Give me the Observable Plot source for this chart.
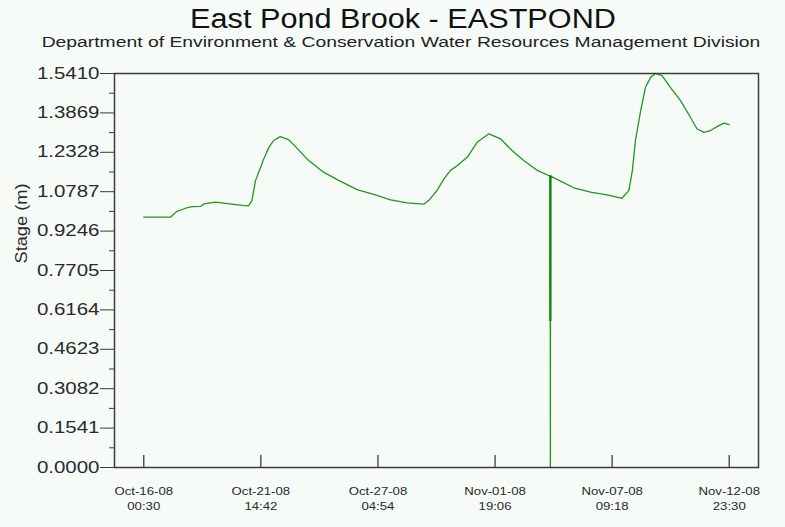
<!DOCTYPE html>
<html>
<head>
<meta charset="utf-8">
<script src="https://cdn.jsdelivr.net/npm/d3@7"></script>
<script src="https://cdn.jsdelivr.net/npm/@observablehq/plot@0.6"></script>
<style>
  html, body { margin: 0; padding: 0; background: #f6fbf8; }
  #wrap { position: relative; width: 785px; height: 527px; overflow: hidden; font-family: "Liberation Sans", Arial, sans-serif; }
  #header { position: relative; height: 60px; }
  .t { position: absolute; white-space: nowrap; transform-origin: center; }
  #title { top: 6px; left: 403px; font-size: 27px; line-height: 27px; color: #111; transform: translateX(-50%) scaleX(1.135); }
  #subtitle { top: 35px; left: 401px; font-size: 14px; line-height: 14px; color: #222; transform: translateX(-50%) scaleX(1.38); }
  #chart svg { display: block; }
</style>
</head>
<body>
<div id="wrap">
  <div id="header">
    <div id="title" class="t">East Pond Brook - EASTPOND</div>
    <div id="subtitle" class="t">Department of Environment &amp; Conservation Water Resources Management Division</div>
  </div>
  <div id="chart"></div>
</div>
<script>
// ---- data ----
const times = [
  "2008-10-16T00:30","2008-10-17T07:00","2008-10-17T14:30","2008-10-18T00:30","2008-10-18T08:00",
  "2008-10-18T17:30","2008-10-18T21:30","2008-10-19T10:30","2008-10-20T05:30","2008-10-20T17:30",
  "2008-10-21T00:30","2008-10-21T04:30","2008-10-21T08:30","2008-10-21T14:30","2008-10-21T18:00",
  "2008-10-22T00:00","2008-10-22T05:30","2008-10-22T13:00","2008-10-22T22:30","2008-10-23T06:30",
  "2008-10-23T19:30","2008-10-24T14:30","2008-10-25T09:30","2008-10-26T05:00","2008-10-27T00:00",
  "2008-10-27T19:30","2008-10-28T14:30","2008-10-29T09:30","2008-10-29T15:00","2008-10-30T00:30",
  "2008-10-30T08:30","2008-10-30T16:00","2008-10-31T00:00","2008-10-31T11:30","2008-10-31T22:30",
  "2008-11-01T12:00","2008-11-02T01:30","2008-11-02T14:30","2008-11-03T04:00","2008-11-03T19:30",
  "2008-11-04T08:30","2008-11-04T10:15","2008-11-04T10:30","2008-11-04T10:45",
  "2008-11-04T22:00","2008-11-05T13:30","2008-11-06T08:30","2008-11-07T03:30",
  "2008-11-07T20:30","2008-11-08T04:30","2008-11-08T08:30","2008-11-08T12:00","2008-11-08T18:00",
  "2008-11-08T23:30","2008-11-09T05:30","2008-11-09T11:00","2008-11-09T18:30","2008-11-10T04:00",
  "2008-11-10T15:30","2008-11-11T03:00","2008-11-11T10:30","2008-11-11T18:30","2008-11-12T02:00",
  "2008-11-12T11:30","2008-11-12T17:30","2008-11-12T23:30"
];
const stage = [
  0.979,0.979,1.002,1.014,1.020,
  1.021,1.031,1.038,1.030,1.025,
  1.023,1.044,1.122,1.174,1.207,
  1.253,1.279,1.294,1.282,1.255,
  1.207,1.155,1.120,1.087,1.068,
  1.047,1.035,1.030,1.044,1.083,
  1.129,1.162,1.181,1.214,1.272,
  1.305,1.285,1.240,1.201,1.162,
  1.142,1.141,0.000,1.140,
  1.120,1.094,1.077,1.066,
  1.053,1.083,1.162,1.279,1.396,
  1.487,1.526,1.541,1.533,1.487,
  1.436,1.370,1.325,1.311,1.318,
  1.337,1.347,1.341
];
// the dense (overplotted) part of the drop-out spike
const spikeTime = ["2008-11-04T10:30"];
const spikeLow = [0.571];
const spikeHigh = [1.141];

const xTickTimes = [
  "2008-10-16T00:30","2008-10-21T14:42","2008-10-27T04:54",
  "2008-11-01T19:06","2008-11-07T09:18","2008-11-12T23:30"
];
const yTickValues = [0.0000,0.1541,0.3082,0.4623,0.6164,0.7705,0.9246,1.0787,1.2328,1.3869,1.5410];
const yLabel = "Stage (m)";

// ---- build ----
const parse = s => new Date(s + "Z");
const data = times.map((t, i) => ({t: parse(t), v: stage[i]}));
const spikes = spikeTime.map((t, i) => ({t: parse(t), lo: spikeLow[i], hi: spikeHigh[i]}));
const xTicks = xTickTimes.map(parse);
const t0 = xTicks[0], t1 = xTicks[xTicks.length - 1];
const pad = (t1 - t0) * 0.05;
const xDomain = [new Date(+t0 - pad), new Date(+t1 + pad)];
const yMinor = yTickValues.slice(1).map((v, i) => (v + yTickValues[i]) / 2);

const W = 785, H = 467, mT = 13, mB = 60, mL = 114, mR = 27;
const plotH = H - mT - mB;
const fmtD = d3.utcFormat("%b-%d-%y"), fmtT = d3.utcFormat("%H:%M");
const axisColor = "#3c3c3c";

const chart = Plot.plot({
  width: W, height: H,
  marginTop: mT, marginBottom: mB, marginLeft: mL, marginRight: mR,
  style: {background: "transparent", fontFamily: "'Liberation Sans', Arial, sans-serif", color: "#2a2a2a"},
  x: {type: "utc", domain: xDomain},
  y: {domain: [0, 1.541]},
  marks: [
    Plot.line(data, {x: "t", y: "v", stroke: "#1f971f", strokeWidth: 1.3}),
    Plot.ruleX(spikes, {x: "t", y1: "lo", y2: "hi", stroke: "#0b800b", strokeWidth: 2.2}),
    Plot.frame({stroke: axisColor, strokeWidth: 1.5}),
    Plot.axisY({ticks: yTickValues, tickSize: 14, tickPadding: 1, tickFormat: d => d.toFixed(4),
                fontSize: 16, label: null, stroke: axisColor}),
    Plot.axisY({ticks: yMinor, tickSize: 5, tickFormat: () => "", label: null, stroke: axisColor}),
    Plot.tickX(xTicks, {x: d => d, insetTop: plotH - 12, stroke: axisColor, strokeWidth: 1.3}),
    Plot.axisX({ticks: xTicks, tickSize: 0, tickPadding: 17, fontSize: 11, lineHeight: 1.36,
                tickFormat: d => fmtD(d) + "\n" + fmtT(d), label: null}),
    Plot.text([yLabel], {frameAnchor: "left", rotate: -90, dx: -93, dy: -7, fontSize: 16, fill: "#2a2a2a"})
  ]
});
document.getElementById("chart").appendChild(chart);

// horizontally widen text to match the reference's stretched glyphs
function stretch(nodes, s) {
  nodes.forEach(t => {
    const ax = +(t.getAttribute("x") || 0);
    const tr = t.getAttribute("transform") || "";
    t.setAttribute("transform", `${tr} translate(${ax},0) scale(${s},1) translate(${-ax},0)`);
  });
}
stretch(chart.querySelectorAll('g[aria-label="y-axis tick label"] text'), 1.28);
stretch(chart.querySelectorAll('g[aria-label="x-axis tick label"] text'), 1.2);
stretch([...chart.querySelectorAll("text")].filter(t => t.textContent === yLabel), 1.14);
</script>
</body>
</html>
